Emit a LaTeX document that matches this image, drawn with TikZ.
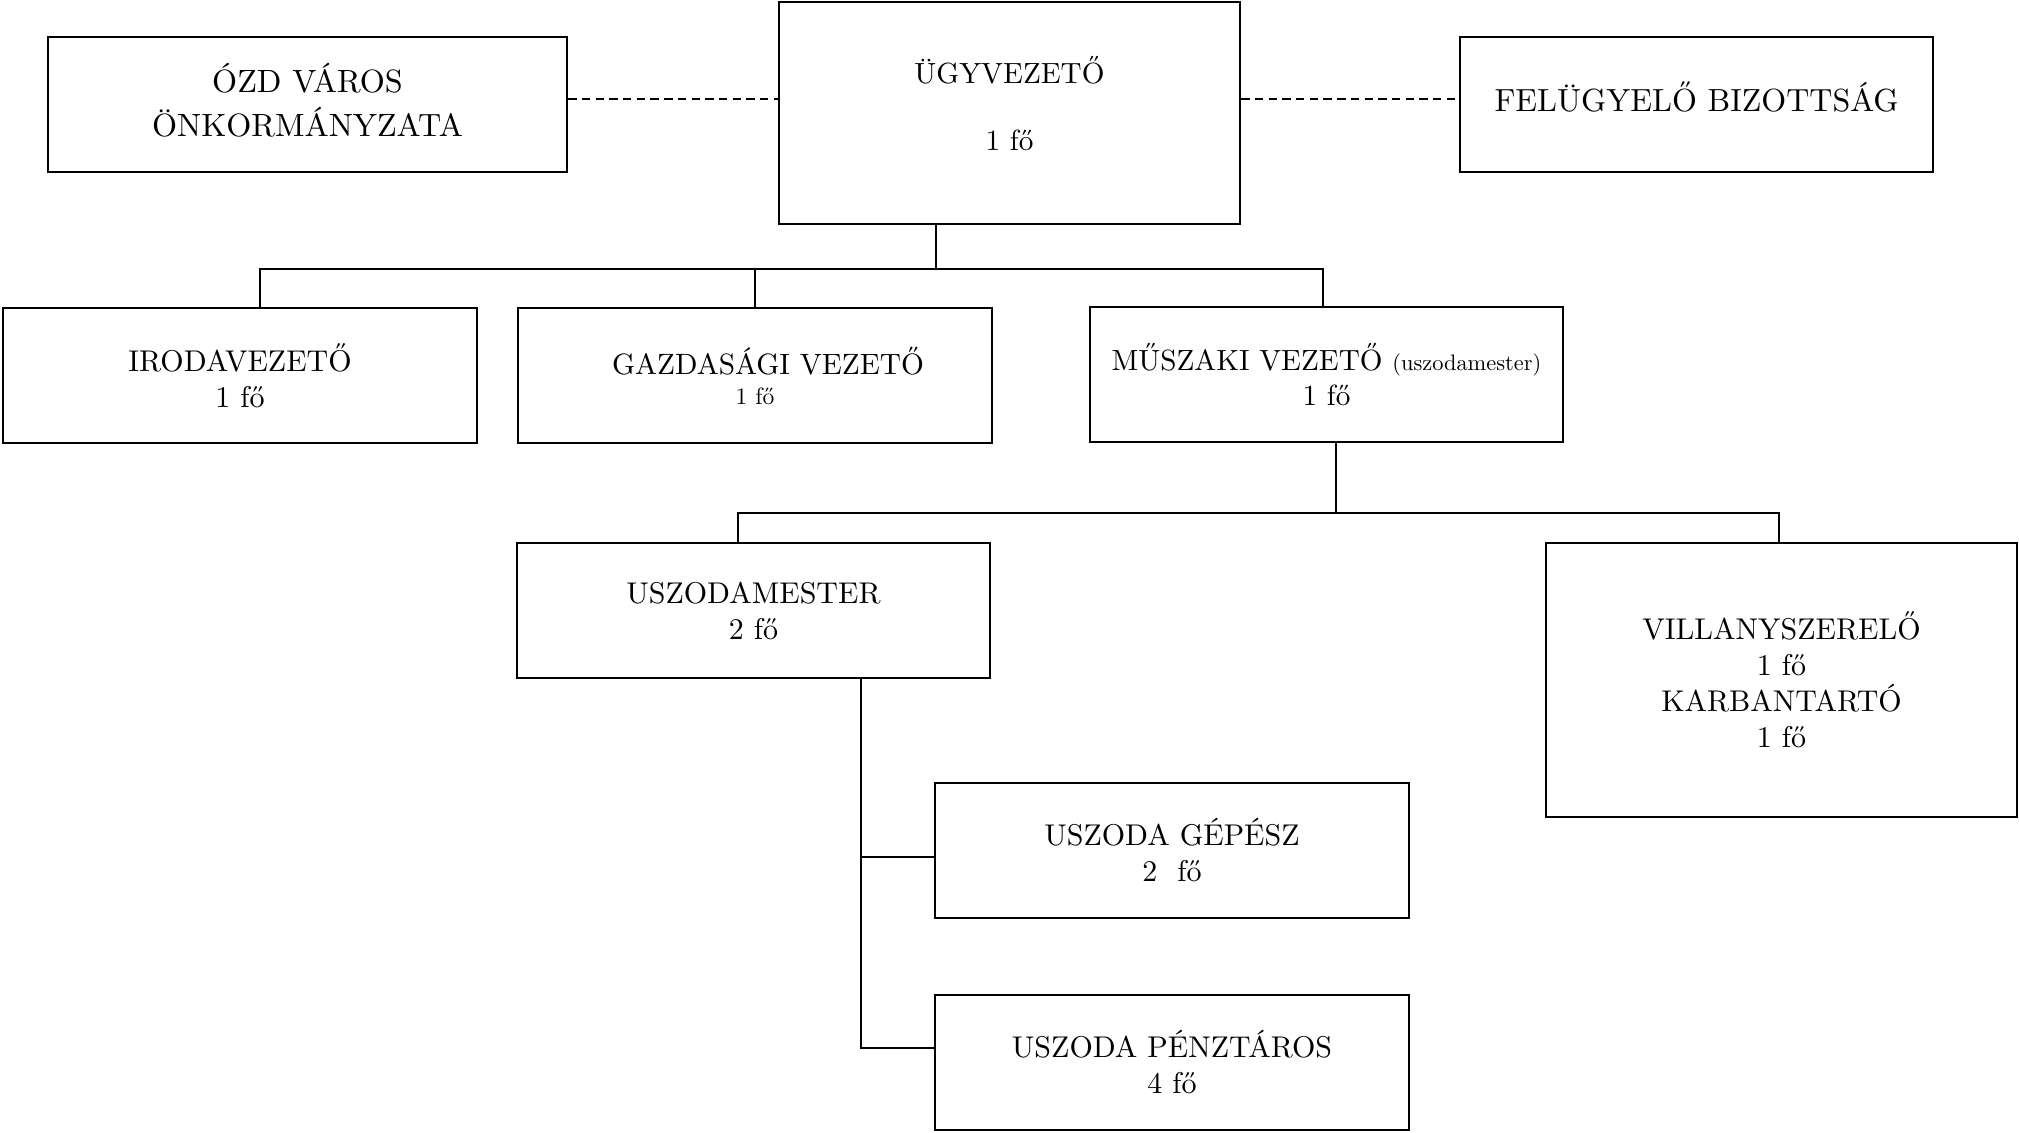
\documentclass[tikz,border=0pt]{standalone}
\usepackage{fontspec}
\setmainfont{lmroman10-regular.otf}
\begin{document}
\begin{tikzpicture}[x=0.5pt,y=-0.5pt,
  box/.style={draw,line width=1.2pt,inner sep=0pt,align=center,font=\fontsize{15}{18}\selectfont},
  txt/.style={inner sep=0pt,align=center,font=\fontsize{15}{18}\selectfont},
  big/.style={font=\fontsize{16.1}{22}\selectfont},
  conn/.style={line width=0.8pt},
  dashc/.style={line width=1.3pt,dash pattern=on 4.2pt off 2.65pt}]
\useasboundingbox (0,0) rectangle (2019,1132);
% top row
\node[box,minimum width=259.5pt,minimum height=67.5pt] (ozd) at (307.5,104.5) {};
\node[txt,big] (ozdt) at ([yshift=2.25pt]ozd.center) {ÓZD VÁROS\\ÖNKORMÁNYZATA};
\node[box,minimum width=230.5pt,minimum height=111pt] (ugy) at (1009.5,113) {};
\node[txt,font=\fontsize{14.6}{17}\selectfont] (ugyt) at ([yshift=4.8pt]ugy.center) {ÜGYVEZETŐ\\[16.5pt]1 fő};
\node[box,minimum width=236.5pt,minimum height=67.5pt] (fel) at (1696.5,104.5) {};
\node[txt,font=\fontsize{16}{20}\selectfont] (felt) at ([yshift=4pt]fel.center) {FELÜGYELŐ BIZOTTSÁG};
% second row
\node[box,minimum width=237pt,minimum height=67.5pt] (iroda) at (240,375.5) {IRODAVEZETŐ\\1 fő};
\node[box,minimum width=237pt,minimum height=67.5pt,font=\fontsize{14.7}{18}\selectfont] (gazd) at (755,375.5) {\hspace*{13pt}GAZDASÁGI VEZETŐ\\[-3pt]{\fontsize{11.8}{14}\selectfont 1 fő}};
\node[box,minimum width=236.5pt,minimum height=67.5pt,font=\fontsize{14.6}{17.5}\selectfont] (musz) at (1326.5,374.5) {MŰSZAKI VEZETŐ {\fontsize{11.2}{13}\selectfont (uszodamester)}\\1 fő};
% third row
\node[box,minimum width=236.5pt,minimum height=67.5pt] (usz) at (753.5,610.5) {USZODAMESTER\\2 fő};
\node[box,minimum width=235.5pt,minimum height=137pt] (villany) at (1781.5,680) {VILLANYSZERELŐ\\1 fő\\KARBANTARTÓ\\1 fő};
% fourth row
\node[box,minimum width=237pt,minimum height=67.5pt] (gepesz) at (1172,850.5) {USZODA GÉPÉSZ\\2\ \ fő};
\node[box,minimum width=237pt,minimum height=67.5pt] (penz) at (1172,1062.5) {USZODA PÉNZTÁROS\\4 fő};
% dashed links
\coordinate (dy) at (0,99);
\draw[dashc] (ozd.east |- dy) -- (ugy.west |- dy);
\draw[dashc] (ugy.east |- dy) -- (fel.west |- dy);
% first level
\coordinate (b1) at (936,269);
\draw[conn] (ugy.south -| b1) -- (b1);
\draw[conn] ([xshift=10pt]iroda.north) -- ([xshift=10pt]iroda.north |- b1) -- ([xshift=-1.75pt]musz.north |- b1) -- ([xshift=-1.75pt]musz.north);
\draw[conn] (gazd.north) -- (gazd.north |- b1);
% second level
\coordinate (b2) at (1336,513);
\draw[conn] (musz.south -| b2) -- (b2);
\draw[conn] ([xshift=-7.75pt]usz.north) -- ([xshift=-7.75pt]usz.north |- b2) -- ([xshift=-1.25pt]villany.north |- b2) -- ([xshift=-1.25pt]villany.north);
% third level
\coordinate (b3) at (861,700);
\draw[conn] (usz.south -| b3) -- ([yshift=7.25pt]penz.west -| b3) -- ([yshift=7.25pt]penz.west);
\draw[conn] ([yshift=-3.25pt]gepesz.west -| b3) -- ([yshift=-3.25pt]gepesz.west);
\end{tikzpicture}
\end{document}
